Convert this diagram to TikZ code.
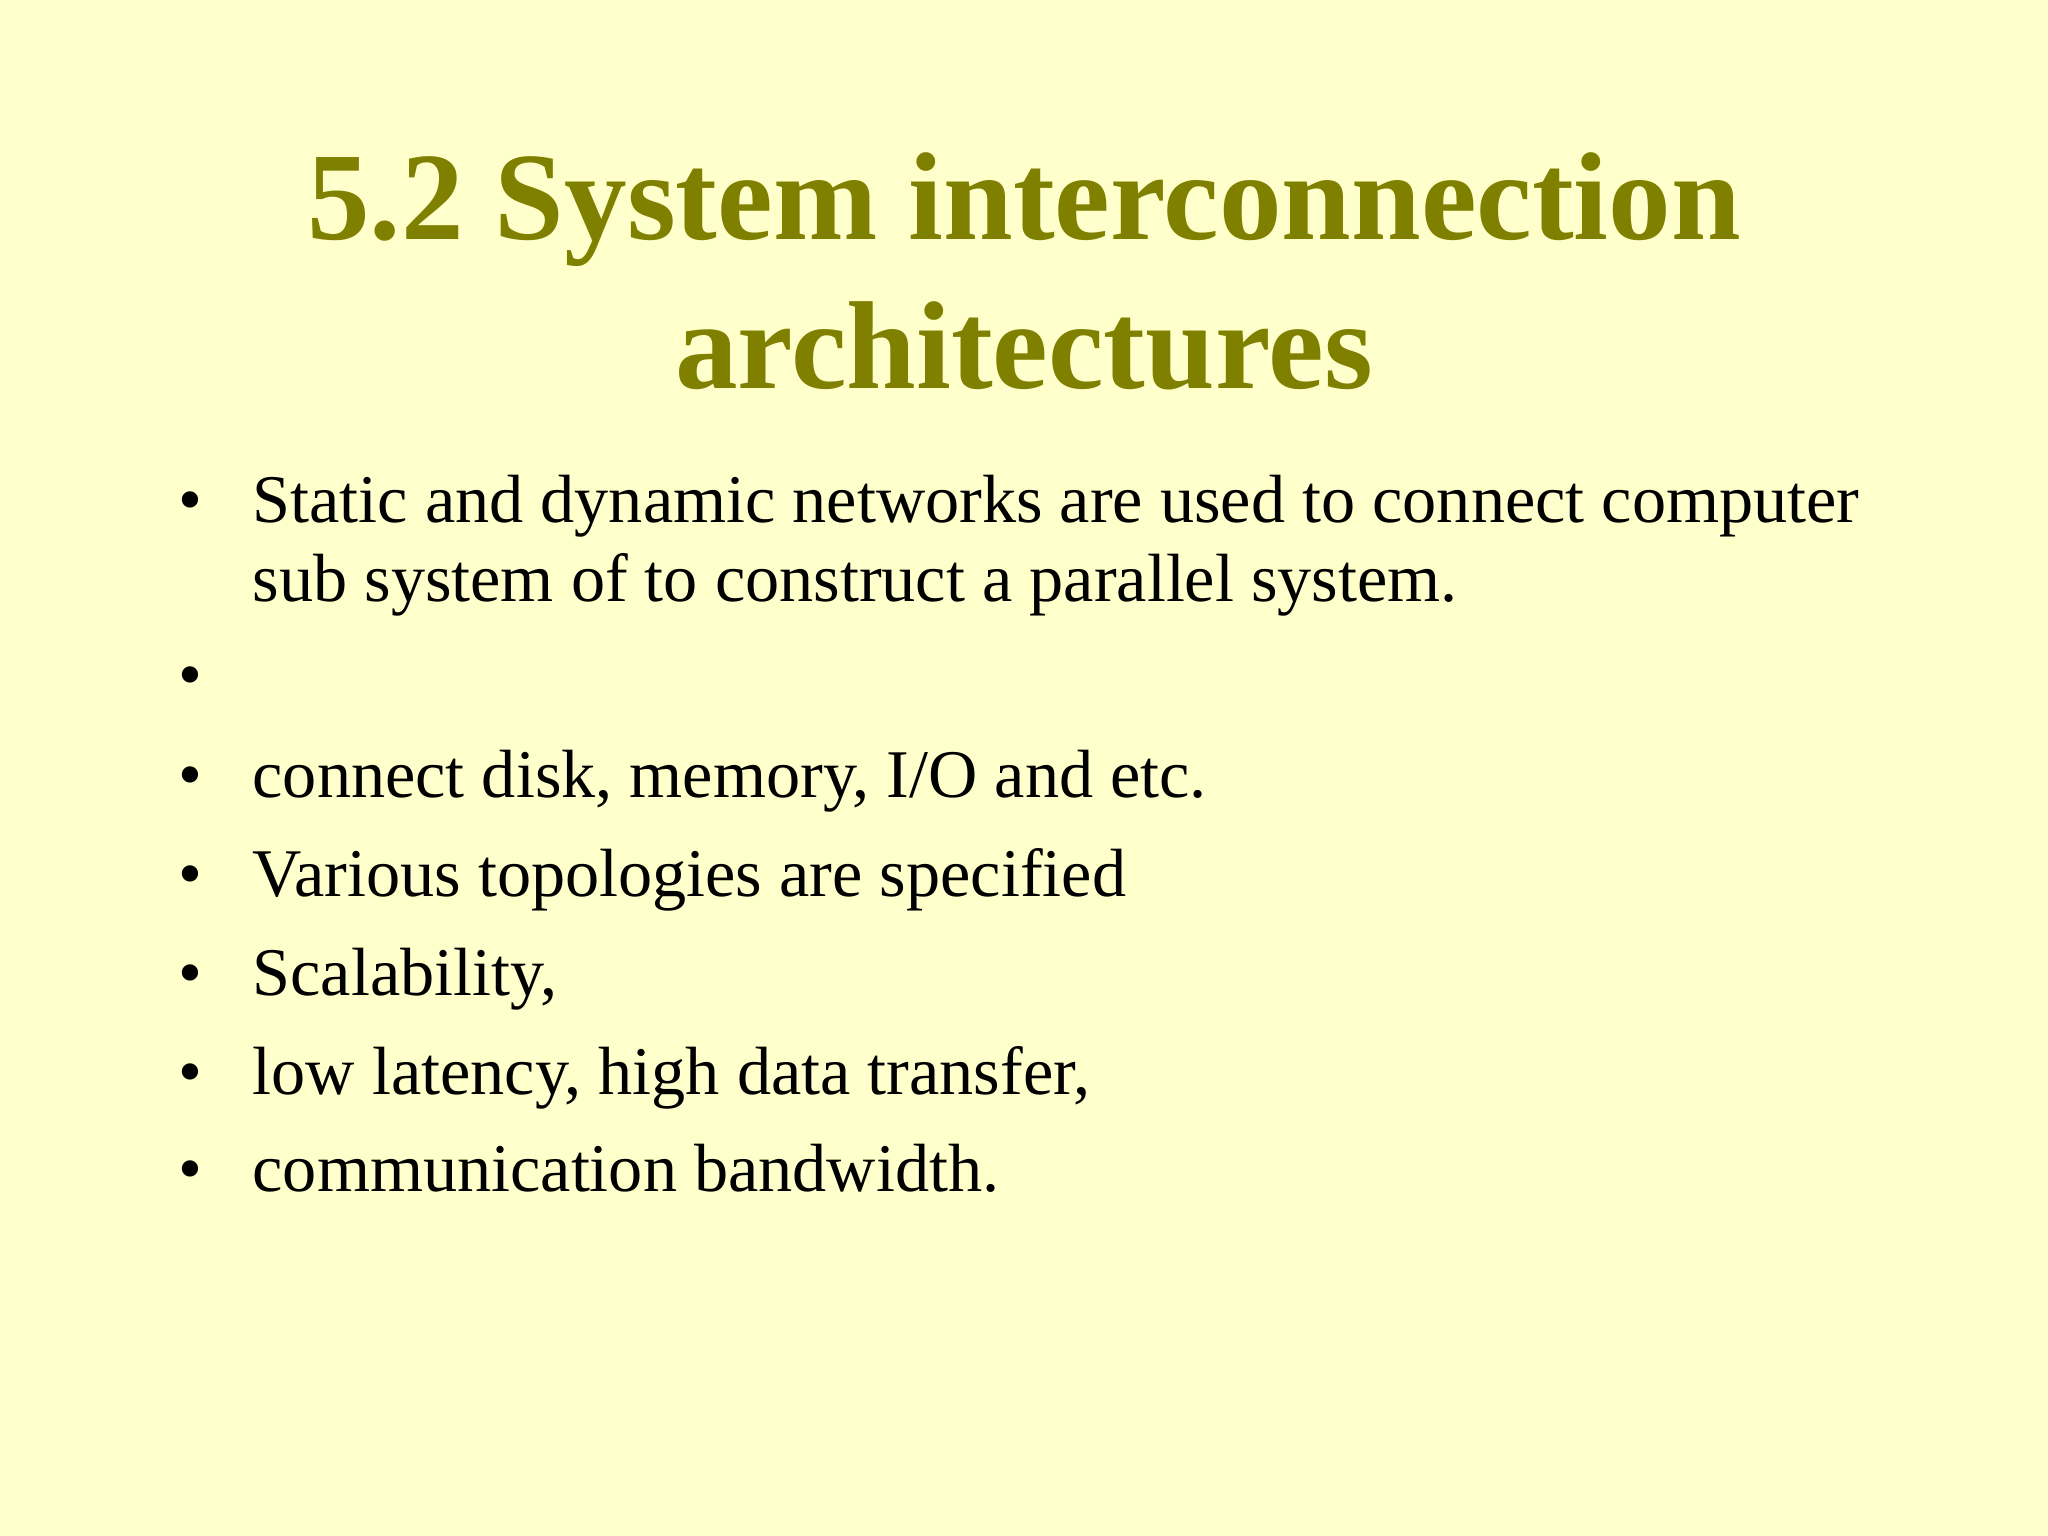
\documentclass[tikz,border=0pt]{standalone}
\usepackage{fontspec}
\setmainfont{Liberation Serif}
\definecolor{bg}{HTML}{FFFFCC}
\definecolor{olive}{HTML}{808000}
\begin{document}
\begin{tikzpicture}[x=0.01cm,y=-0.01cm,
  ttl/.style={anchor=base,inner sep=0pt,font=\fontsize{35.6}{40}\selectfont\bfseries,text=olive},
  bodytext/.style={anchor=base west,inner sep=0pt,font=\fontsize{19.4}{22}\selectfont},
  bul/.style={anchor=base west,inner sep=0pt,font=\fontsize{19.4}{22}\selectfont}]
\fill[bg] (0,0) rectangle (2048,1536);
\useasboundingbox (0,0) rectangle (2048,1536);
\node[ttl] (t1) at (1024,239) {5.2 System interconnection};
\node[ttl] (t2) at (1024,388) {architectures};
\foreach \y/\t [count=\i] in {522/{Static and dynamic networks are used to connect computer},697/{},797/{connect disk, memory, I/O and etc.},896/{Various topologies are specified},995/{Scalability,},1094/{low latency, high data transfer,},1191/{communication bandwidth.}}{
  \node[bul] (b\i) at (178,\y) {•};
  \node[bodytext] (l\i) at (252,\y) {\t};
}
\node[bodytext] (l1b) at (252,601) {sub system of to construct a parallel system.};
\end{tikzpicture}
\end{document}
